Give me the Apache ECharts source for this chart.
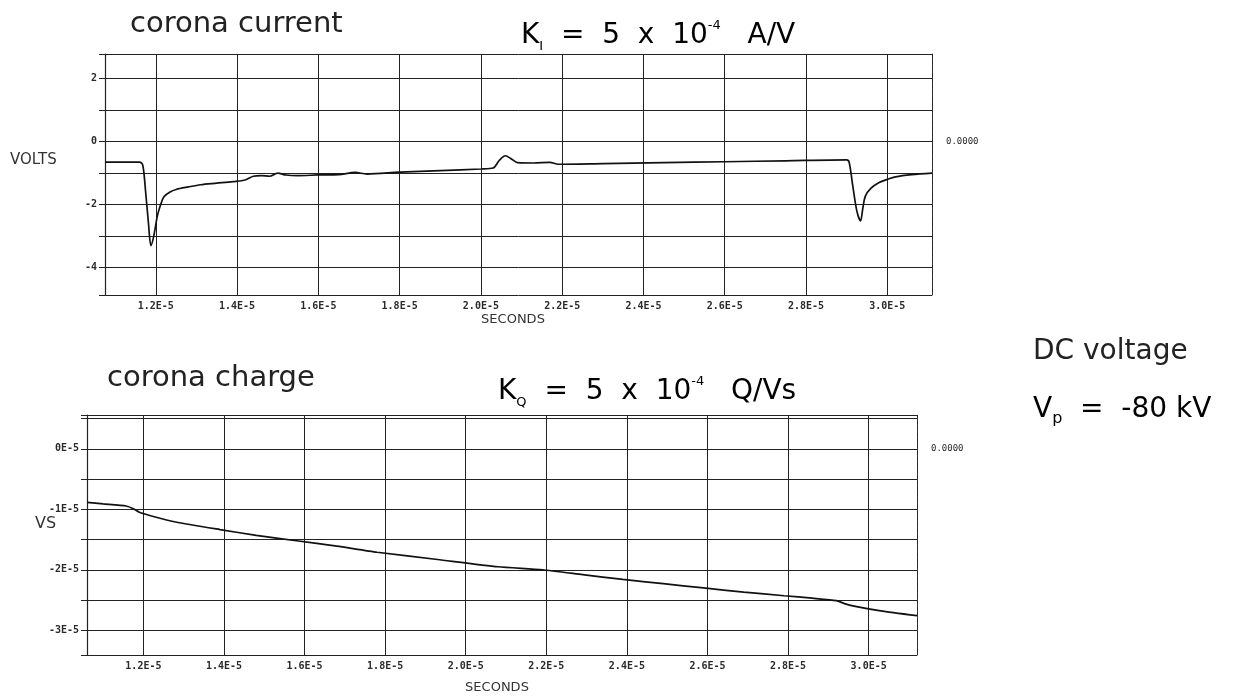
<!DOCTYPE html>
<html>
<head>
<meta charset="utf-8">
<title>corona current / corona charge</title>
<script src="https://cdn.jsdelivr.net/npm/echarts@6/dist/echarts.min.js"></script>
<style>
  html, body { margin: 0; padding: 0; background: #fff; }
  #chart { width: 1243px; height: 698px; }
</style>
</head>
<body>
<div id="chart"></div>
<script>
// time in units of 1E-5 s
const currentTime = [1.075, 1.16, 1.168, 1.175, 1.182, 1.188, 1.195, 1.204, 1.212, 1.22, 1.235, 1.25, 1.28, 1.31,
  1.35, 1.39, 1.42, 1.44, 1.46, 1.48, 1.5, 1.52, 1.55, 1.6, 1.65, 1.69, 1.72, 1.8, 1.9, 2.0, 2.03, 2.045,
  2.06, 2.075, 2.09, 2.13, 2.17, 2.19, 2.3, 2.45, 2.6, 2.75, 2.9, 2.906, 2.915, 2.925, 2.934, 2.94,
  2.946, 2.96, 2.98, 3.0, 3.02, 3.06, 3.11]
// volts
const currentVolts = [-0.65, -0.65, -0.75, -1.6, -2.6, -3.3, -3.0, -2.35, -2.0, -1.75, -1.6, -1.52, -1.44, -1.37,
  -1.32, -1.27, -1.22, -1.1, -1.08, -1.1, -1.0, -1.06, -1.08, -1.06, -1.05, -0.98, -1.03, -0.97, -0.92, -0.87, -0.84, -0.6,
  -0.45, -0.55, -0.67, -0.68, -0.66, -0.72, -0.7, -0.67, -0.64, -0.61, -0.58, -0.65, -1.4, -2.2, -2.52, -2.1,
  -1.73, -1.48, -1.3, -1.2, -1.12, -1.05, -1.0]

const chargeTime = [1.06, 1.1, 1.157, 1.175, 1.19, 1.22, 1.28, 1.39, 1.48, 1.58, 1.68, 1.78, 1.93, 2.08, 2.19,
  2.29, 2.39, 2.49, 2.59, 2.69, 2.79, 2.86, 2.92, 2.94, 2.97, 3.03, 3.12]
// volt-seconds, units of 1E-5
const chargeVs = [-0.885, -0.91, -0.945, -0.99, -1.05, -1.11, -1.21, -1.335, -1.43, -1.52, -1.61, -1.71, -1.83, -1.95, -2.0,
  -2.08, -2.16, -2.23, -2.3, -2.37, -2.43, -2.47, -2.51, -2.56, -2.61, -2.68, -2.76]

const xLabelStep = 0.2
const currentRange = [-4.87, 2.78]
const chargeRange = [-3.41, 0.56]

function isStep(v, step) {
  const k = v / step
  return Math.abs(k - Math.round(k)) < 1e-6
}

const tickFont = { fontFamily: 'DejaVu Sans Mono', fontSize: 10, fontWeight: 'bold', color: '#2a2a2a' }
const gridLine = { lineStyle: { color: '#222', width: 1 } }
const textFont = 'DejaVu Sans'

function timeAxis(gridIndex, min, max) {
  return {
    type: 'value',
    gridIndex: gridIndex,
    min: min,
    max: max,
    splitNumber: 10,
    axisLine: { show: true, lineStyle: { color: '#222', width: 1.2 } },
    axisTick: { show: false },
    splitLine: gridLine,
    axisLabel: Object.assign({
      margin: 6,
      formatter: v => isStep(v, xLabelStep) ? v.toFixed(1) + 'E-5' : ''
    }, tickFont)
  }
}

function rightAxis(gridIndex, range) {
  return {
    type: 'value',
    gridIndex: gridIndex,
    position: 'right',
    min: range[0],
    max: range[1],
    splitNumber: 8,
    axisLine: { show: true, lineStyle: { color: '#333', width: 1, type: [3, 3] } },
    axisTick: { show: false },
    splitLine: { show: false },
    axisLabel: Object.assign({
      margin: 14,
      formatter: v => Math.abs(v) < 1e-9 ? '0.0000' : ''
    }, tickFont, { fontWeight: 'normal', fontSize: 9 })
  }
}

const chart = echarts.init(document.getElementById('chart'))

chart.setOption({
  backgroundColor: '#fff',
  animation: false,
  grid: [
    { left: 105, right: 311, top: 54, bottom: 403 },
    { left: 87, right: 326, top: 415, bottom: 43 }
  ],
  xAxis: [
    timeAxis(0, currentTime[0], currentTime[currentTime.length - 1]),
    timeAxis(1, chargeTime[0], chargeTime[chargeTime.length - 1])
  ],
  yAxis: [
    {
      type: 'value',
      gridIndex: 0,
      min: currentRange[0],
      max: currentRange[1],
      splitNumber: 8,
      axisLine: { show: true, lineStyle: { color: '#222', width: 1.2 } },
      axisTick: { show: true, length: 6, lineStyle: { color: '#222' } },
      splitLine: gridLine,
      axisLabel: Object.assign({
        margin: 8,
        formatter: v => (isStep(v, 2) ? String(Math.round(v)) : '')
      }, tickFont)
    },
    {
      type: 'value',
      gridIndex: 1,
      min: chargeRange[0],
      max: chargeRange[1],
      splitNumber: 8,
      axisLine: { show: true, lineStyle: { color: '#222', width: 1.2 } },
      axisTick: { show: true, length: 6, lineStyle: { color: '#222' } },
      splitLine: gridLine,
      axisLabel: Object.assign({
        margin: 8,
        formatter: v => (isStep(v, 1) ? Math.round(v) + 'E-5' : '')
      }, tickFont)
    },
    rightAxis(0, currentRange),
    rightAxis(1, chargeRange)
  ],
  series: [
    {
      name: 'corona current',
      type: 'line',
      xAxisIndex: 0,
      yAxisIndex: 0,
      showSymbol: false,
      smooth: 0.3,
      lineStyle: { color: '#111', width: 1.7 },
      data: currentTime.map((t, i) => [t, currentVolts[i]])
    },
    {
      name: 'corona charge',
      type: 'line',
      xAxisIndex: 1,
      yAxisIndex: 1,
      showSymbol: false,
      smooth: 0.2,
      lineStyle: { color: '#111', width: 1.7 },
      data: chargeTime.map((t, i) => [t, chargeVs[i]])
    }
  ],
  graphic: [
    { type: 'text', x: 130, y: 24, style: { text: 'corona current', font: '29px "DejaVu Sans"', fill: '#222', verticalAlign: 'middle' } },
    {
      type: 'text', x: 521, y: 36,
      style: {
        text: '{m|K}{sub|I}{m|  =  5  x  10}{sup|-4}{m|   A/V}',
        verticalAlign: 'middle',
        rich: {
          m: { fontFamily: textFont, fontSize: 28, color: '#222', lineHeight: 34 },
          sub: { fontFamily: textFont, fontSize: 13, color: '#222', verticalAlign: 'bottom', lineHeight: 34 },
          sup: { fontFamily: textFont, fontSize: 13, color: '#222', verticalAlign: 'top', lineHeight: 34 }
        }
      }
    },
    { type: 'text', x: 10, y: 160, style: { text: 'VOLTS', font: '15px "DejaVu Sans"', fill: '#333', verticalAlign: 'middle' } },
    { type: 'text', x: 513, y: 320, style: { text: 'SECONDS', font: '13px "DejaVu Sans"', fill: '#333', align: 'center', verticalAlign: 'middle' } },

    { type: 'text', x: 107, y: 378, style: { text: 'corona charge', font: '29px "DejaVu Sans"', fill: '#222', verticalAlign: 'middle' } },
    {
      type: 'text', x: 498, y: 392,
      style: {
        text: '{m|K}{sub|Q}{m|  =  5  x  10}{sup|-4}{m|   Q/Vs}',
        verticalAlign: 'middle',
        rich: {
          m: { fontFamily: textFont, fontSize: 28, color: '#222', lineHeight: 34 },
          sub: { fontFamily: textFont, fontSize: 13, color: '#222', verticalAlign: 'bottom', lineHeight: 34 },
          sup: { fontFamily: textFont, fontSize: 13, color: '#222', verticalAlign: 'top', lineHeight: 34 }
        }
      }
    },
    { type: 'text', x: 35, y: 524, style: { text: 'VS', font: '16px "DejaVu Sans"', fill: '#333', verticalAlign: 'middle' } },
    { type: 'text', x: 497, y: 688, style: { text: 'SECONDS', font: '13px "DejaVu Sans"', fill: '#333', align: 'center', verticalAlign: 'middle' } },

    { type: 'text', x: 1033, y: 352, style: { text: 'DC voltage', font: '28px "DejaVu Sans"', fill: '#222', verticalAlign: 'middle' } },
    {
      type: 'text', x: 1033, y: 410,
      style: {
        text: '{m|V}{sub|p}{m|  =  -80 kV}',
        verticalAlign: 'middle',
        rich: {
          m: { fontFamily: textFont, fontSize: 28, color: '#222', lineHeight: 34 },
          sub: { fontFamily: textFont, fontSize: 16, color: '#222', verticalAlign: 'bottom', lineHeight: 34 }
        }
      }
    }
  ]
})
</script>
</body>
</html>
